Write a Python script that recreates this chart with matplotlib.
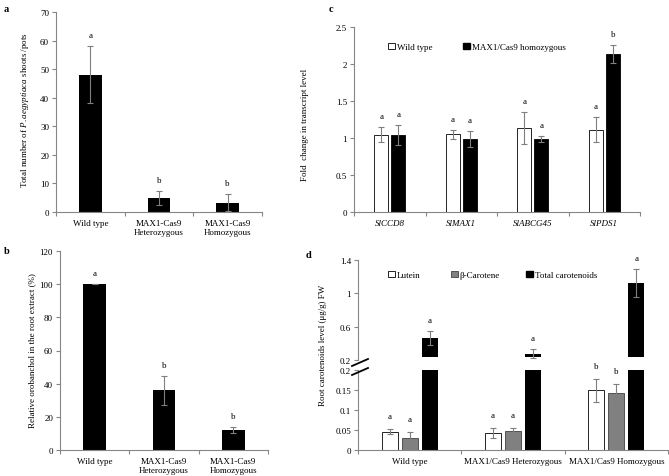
import numpy as np
import matplotlib
matplotlib.use('Agg')
import matplotlib.pyplot as plt
from matplotlib.lines import Line2D
from matplotlib.patches import Patch
from matplotlib.ticker import FuncFormatter, FixedLocator

plt.rcParams['font.family'] = ['Liberation Serif', 'DejaVu Serif']
plt.rcParams['mathtext.fontset'] = 'custom'
plt.rcParams['mathtext.rm'] = 'Liberation Serif'
plt.rcParams['mathtext.it'] = 'Liberation Serif:italic'
plt.rcParams['font.size'] = 6.5
FS = 6.5

# ---- data ----
a_groups = ['Wild type', 'MAX1-Cas9\nHeterozygous', 'MAX1-Cas9\nHomozygous']
a_vals = [48, 5, 3.2]
a_err = [10, 2.5, 3]
a_letters = ['a', 'b', 'b']

b_groups = ['Wild type', 'MAX1-Cas9\nHeterozygous', 'MAX1-Cas9\nHomozygous']
b_vals = [100, 36, 12]
b_err = [0, 8.7, 2]
b_letters = ['a', 'b', 'b']

c_genes = ['SlCCD8', 'SlMAX1', 'SlABCG45', 'SlPDS1']
c_wt = [1.045, 1.05, 1.135, 1.11]
c_wt_err = [0.105, 0.06, 0.22, 0.17]
c_hom = [1.035, 0.985, 0.99, 2.135]
c_hom_err = [0.135, 0.11, 0.04, 0.12]
c_wt_letters = ['a', 'a', 'a', 'a']
c_hom_letters = ['a', 'a', 'a', 'b']

d_groups = ['Wild type', 'MAX1/Cas9 Heterozygous', 'MAX1/Cas9 Homozygous']
d_lutein = [0.046, 0.043, 0.149]
d_lutein_err = [0.006, 0.013, 0.028]
d_beta = [0.03, 0.048, 0.143]
d_beta_err = [0.015, 0.0075, 0.021]
d_total = [0.463, 0.277, 1.125]
d_total_err = [0.08, 0.05, 0.165]
d_lutein_letters = ['a', 'a', 'b']
d_beta_letters = ['a', 'a', 'b']
d_total_letters = ['a', 'a', 'a']

W, H = 669, 477
fig = plt.figure(figsize=(W / 100, H / 100), dpi=100)

SPINE = '#868686'
ERR = '#7f7f7f'


def rect(l, t, r, b):
    return [l / W, 1 - b / H, (r - l) / W, (b - t) / H]


def fmt(v, pos):
    return '%g' % v


def style(ax, n, bottom=True):
    for s in ['top', 'right']:
        ax.spines[s].set_visible(False)
    ax.spines['left'].set_color(SPINE)
    ax.spines['bottom'].set_color(SPINE)
    ax.spines['left'].set_linewidth(0.8)
    ax.spines['bottom'].set_linewidth(0.8)
    ax.tick_params(axis='y', length=3, width=0.8, color=SPINE, pad=2, labelsize=FS)
    ax.yaxis.set_major_formatter(FuncFormatter(fmt))
    ax.set_xlim(-0.5, n - 0.5)
    if bottom:
        ax.set_xticks(np.arange(n))
        ax.xaxis.set_minor_locator(FixedLocator(np.arange(n + 1) - 0.5))
        ax.tick_params(axis='x', which='major', length=0, pad=5, labelsize=FS)
        ax.tick_params(axis='x', which='minor', length=3, width=0.8, color=SPINE)


def letters(ax, xs, tops, labs, off=7):
    for x, t, l in zip(xs, tops, labs):
        ax.annotate(l, (x, t), xytext=(0, off), textcoords='offset pixels',
                    ha='center', va='bottom', fontsize=FS)


def legend_item(handle, label, px, py):
    fig.legend([handle], [label], loc='center left',
               bbox_to_anchor=(px / W, 1 - py / H), frameon=False,
               handlelength=0.75, handleheight=0.75, handletextpad=0.2,
               borderaxespad=0, borderpad=0, fontsize=FS)


ekw = dict(ecolor=ERR, elinewidth=0.8, capsize=2, capthick=0.8)

# ---- panel a ----
ax = fig.add_axes(rect(56, 13, 262, 213))
x = np.arange(3)
ax.bar(x, a_vals, 0.33, color='black', yerr=a_err, error_kw=ekw)
ax.set_ylim(0, 70)
ax.set_yticks(np.arange(0, 71, 10))
style(ax, 3)
ax.set_xticklabels(a_groups, linespacing=1.15)
letters(ax, x, np.array(a_vals) + np.array(a_err), a_letters)
fig.text(25 / W, 1 - 110 / H, r'Total number of $\mathit{P.aegyptiaca}$ shoots /pots',
         rotation=90, ha='center', va='center', fontsize=FS)
fig.text(4 / W, 1 - 10 / H, 'a', fontweight='bold', fontsize=7.5, va='center')

# ---- panel b ----
ax = fig.add_axes(rect(60, 252, 268, 451))
ax.bar(x, b_vals, 0.33, color='black', yerr=b_err, error_kw=ekw)
ax.set_ylim(0, 120)
ax.set_yticks(np.arange(0, 121, 20))
style(ax, 3)
ax.set_xticklabels(b_groups, linespacing=1.15)
letters(ax, x, np.array(b_vals) + np.array(b_err), b_letters)
fig.text(32 / W, 1 - 351 / H, 'Relative orobanchol in the root extract (%)',
         rotation=90, ha='center', va='center', fontsize=FS)
fig.text(4 / W, 1 - 252 / H, 'b', fontweight='bold', fontsize=7.5, va='center')

# ---- panel c ----
ax = fig.add_axes(rect(354, 28, 640, 213))
x4 = np.arange(4)
bw = 0.2
ax.bar(x4 - 0.12, c_wt, bw, color='white', edgecolor='black', linewidth=0.6,
       yerr=c_wt_err, error_kw=ekw)
ax.bar(x4 + 0.12, c_hom, bw, color='black', edgecolor='black', linewidth=0.6,
       yerr=c_hom_err, error_kw=ekw)
ax.set_ylim(0, 2.5)
ax.set_yticks(np.arange(0, 2.51, 0.5))
style(ax, 4)
ax.set_xticklabels(c_genes, style='italic')
letters(ax, x4 - 0.12, np.array(c_wt) + np.array(c_wt_err), c_wt_letters)
letters(ax, x4 + 0.12, np.array(c_hom) + np.array(c_hom_err), c_hom_letters)
legend_item(Patch(facecolor='white', edgecolor='black', linewidth=0.6), 'Wild type', 388, 48)
legend_item(Patch(facecolor='black', edgecolor='black'), 'MAX1/Cas9 homozygous', 463, 48)
fig.text(305 / W, 1 - 125 / H, 'Fold  change in transcript level',
         rotation=90, ha='center', va='center', fontsize=FS)
fig.text(329 / W, 1 - 10 / H, 'c', fontweight='bold', fontsize=7.5, va='center')

# ---- panel d (broken axis) ----
x3 = np.arange(3)
off = 0.194
bw = 0.155
up = fig.add_axes(rect(358, 261, 668, 361))
lo = fig.add_axes(rect(358, 371, 668, 451))

base = 0.235
up.bar(x3 + off, np.array(d_total) - base, bw, bottom=base, color='black',
       yerr=d_total_err, error_kw=ekw)
up.set_ylim(0.2, 1.4)
up.set_yticks([0.2, 0.6, 1.0, 1.4])
style(up, 3, bottom=False)
up.spines['bottom'].set_visible(False)
up.set_xticks([])
letters(up, x3 + off, np.array(d_total) + np.array(d_total_err), d_total_letters)

lo.bar(x3 - off, d_lutein, bw, color='white', edgecolor='black', linewidth=0.6,
       yerr=d_lutein_err, error_kw=ekw)
lo.bar(x3, d_beta, bw, color='#808080', edgecolor='#404040', linewidth=0.6,
       yerr=d_beta_err, error_kw=ekw)
lo.bar(x3 + off, d_total, bw, color='black')
lo.set_ylim(0, 0.2)
lo.set_yticks([0, 0.05, 0.1, 0.15, 0.2])
style(lo, 3)
lo.set_xticklabels(d_groups)
letters(lo, x3 - off, np.array(d_lutein) + np.array(d_lutein_err), d_lutein_letters, off=9)
letters(lo, x3, np.array(d_beta) + np.array(d_beta_err), d_beta_letters, off=9)

# break marks
for y0 in [363.5, 372.5]:
    fig.add_artist(Line2D([352 / W, 368 / W], [1 - (y0 + 3.5) / H, 1 - (y0 - 3.5) / H],
                          color='black', linewidth=1.3))

legend_item(Patch(facecolor='white', edgecolor='black', linewidth=0.6), 'Lutein', 388, 276)
legend_item(Patch(facecolor='#808080', edgecolor='#404040', linewidth=0.6), 'β-Carotene', 451, 276)
legend_item(Patch(facecolor='black', edgecolor='black'), 'Total carotenoids', 526, 276)
fig.text(323 / W, 1 - 345 / H, 'Root carotenoids level (μg/g) FW',
         rotation=90, ha='center', va='center', fontsize=FS)
fig.text(306 / W, 1 - 255 / H, 'd', fontweight='bold', fontsize=7.5, va='center')

fig.savefig('out.png', dpi=100)
